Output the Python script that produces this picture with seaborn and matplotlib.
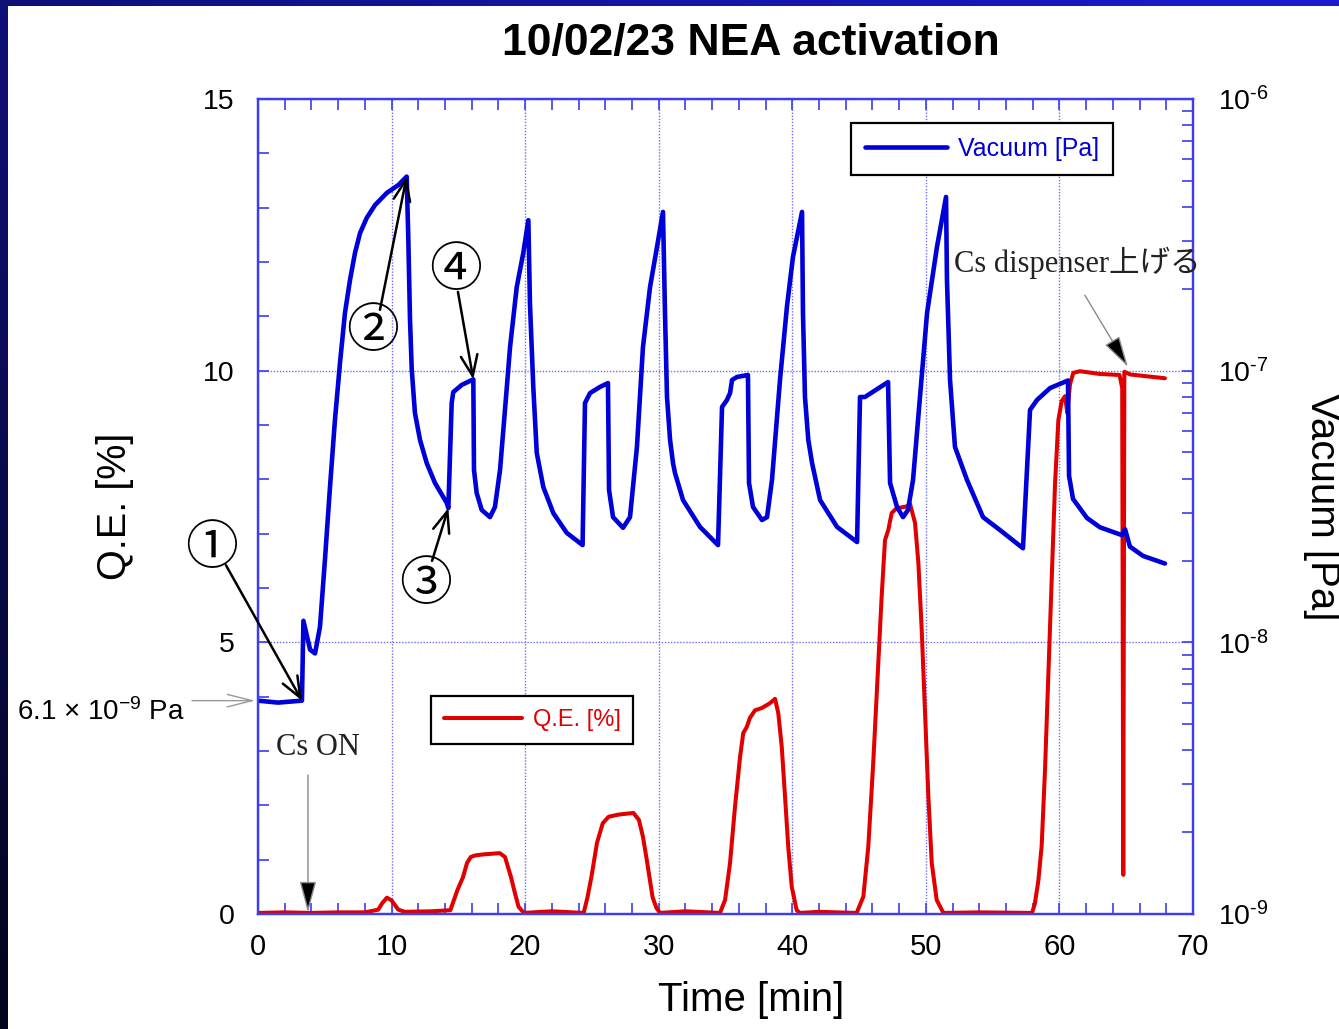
import numpy as np
import pandas as pd
import matplotlib
matplotlib.use("Agg")
import matplotlib.pyplot as plt
from matplotlib.ticker import MultipleLocator, LogLocator, NullFormatter
import seaborn as sns

# ---- Q.E. trace: time [min] and quantum efficiency [%] ----
qe_time = [0.0, 2.0, 4.0, 6.0, 8.0, 9.0, 9.3, 9.65, 10.0, 10.5, 11.0, 13.0,
           14.4, 14.93, 15.35, 15.65, 15.93, 16.3, 17.0, 18.1, 18.49, 18.94,
           19.23, 19.51, 19.91,
           22.0, 24.38, 24.67, 24.96, 25.38, 25.81, 26.25, 27.0, 28.11, 28.52,
           28.82, 29.11, 29.54, 29.83, 30.1,
           32.0, 34.59, 34.97, 35.34, 35.71, 36.09, 36.33, 36.59, 36.83, 37.21,
           37.71, 38.33, 38.71, 38.95, 39.21, 39.46, 39.7, 39.96, 40.33, 40.58,
           42.0, 44.82, 45.32, 45.69, 46.06, 46.44, 46.69, 46.94, 47.19, 47.44,
           47.82, 48.56, 48.81, 49.19, 49.44, 49.69, 49.94, 50.19, 50.44, 50.81,
           51.31, 54.0,
           57.95, 58.16, 58.42, 58.67, 58.92, 59.17, 59.42, 59.67, 59.92, 60.17,
           60.42, 60.59, 60.79, 61.04, 61.54, 63.0, 64.5, 64.7, 64.78, 64.86,
           65.3, 67.9]
qe_value = [0.02, 0.03, 0.02, 0.03, 0.03, 0.08, 0.2, 0.3, 0.25, 0.08, 0.04, 0.05,
            0.07, 0.44, 0.68, 0.94, 1.05, 1.08, 1.1, 1.12, 1.05, 0.68,
            0.39, 0.13, 0.02,
            0.05, 0.02, 0.31, 0.68, 1.31, 1.67, 1.79, 1.83, 1.86, 1.73,
            1.42, 0.99, 0.31, 0.11, 0.02,
            0.05, 0.02, 0.26, 0.94, 1.97, 2.89, 3.33, 3.44, 3.61, 3.75,
            3.79, 3.88, 3.96, 3.70, 3.08, 2.15, 1.23, 0.50, 0.07, 0.02,
            0.04, 0.02, 0.32, 1.24, 2.78, 4.62, 5.84, 6.88, 7.07, 7.38,
            7.47, 7.50, 7.55, 7.20, 6.46, 5.23, 3.70, 2.15, 0.94, 0.26,
            0.02, 0.03,
            0.02, 0.19, 0.61, 1.25, 2.65, 4.40, 6.15, 7.91, 9.09, 9.44,
            9.53, 9.22, 9.75, 9.96, 9.99, 9.94, 9.92, 9.68, 0.72, 9.98,
            9.93, 9.86]

# ---- Chamber pressure trace: time [min] and vacuum [Pa] ----
vac_time = [0.0, 1.5, 3.29, 3.4, 3.9, 4.27, 4.64, 5.02, 5.39, 5.76, 6.14, 6.51,
            6.89, 7.26, 7.64, 8.14, 8.76, 9.64, 10.5, 11.13,
            11.25, 11.38, 11.51, 11.75, 12.13, 12.63, 13.25, 14.13, 14.25,
            14.5, 14.62, 15.25, 16.12,
            16.17, 16.37, 16.75, 17.37, 17.74, 18.12, 18.49, 18.87, 19.37,
            19.86, 20.24,
            20.36, 20.61, 20.87, 21.36, 22.11, 23.11, 24.3,
            24.48, 24.86, 25.6, 26.2,
            26.28, 26.58, 27.33, 27.85, 28.37, 28.82, 29.35, 29.87, 30.32,
            30.47, 30.62, 30.85, 31.07, 31.22, 31.82, 33.09, 34.44,
            34.74, 35.11, 35.34, 35.49, 35.86, 36.68,
            36.76, 37.06, 37.73, 38.11, 38.48, 39.08, 39.6, 40.05, 40.73,
            40.8, 40.95, 41.2, 41.48, 42.08, 43.35, 44.85,
            45.07, 45.44, 47.17,
            47.32, 47.84, 48.29, 48.66, 49.04, 49.56, 50.09, 50.83, 51.51,
            51.58, 51.81, 52.18, 53.08, 54.28, 55.55, 57.27,
            57.8, 58.32, 59.3, 60.64,
            60.72, 61.02, 62.06, 63.04, 64.69, 64.91, 65.28, 66.26, 67.9]
vac_pressure = [6.1e-9, 6.0e-9, 6.1e-9, 1.2e-8, 9.4e-9, 9.1e-9, 1.14e-8, 2.04e-8,
                3.73e-8, 6.58e-8, 1.07e-7, 1.63e-7, 2.16e-7, 2.71e-7, 3.21e-7,
                3.65e-7, 4.07e-7, 4.51e-7, 4.82e-7, 5.18e-7,
                3.11e-7, 1.54e-7, 1.01e-7, 6.98e-8, 5.56e-8, 4.57e-8, 3.86e-8,
                3.26e-8, 3.12e-8,
                7.60e-8, 8.34e-8, 8.86e-8, 9.29e-8,
                4.31e-8, 3.55e-8, 3.07e-8, 2.89e-8, 3.15e-8, 4.31e-8, 7.17e-8,
                1.22e-7, 2.03e-7, 2.71e-7, 3.58e-7,
                1.77e-7, 8.71e-8, 4.98e-8, 3.73e-8, 2.99e-8, 2.53e-8, 2.28e-8,
                7.60e-8, 8.27e-8, 8.71e-8, 9.0e-8,
                3.64e-8, 2.89e-8, 2.64e-8, 2.89e-8, 5.24e-8, 1.22e-7, 2.03e-7,
                2.85e-7, 3.84e-7,
                1.63e-7, 8.0e-8, 5.56e-8, 4.57e-8, 4.2e-8, 3.34e-8, 2.66e-8,
                2.28e-8,
                7.35e-8, 7.80e-8, 8.27e-8, 9.24e-8, 9.48e-8, 9.64e-8,
                3.86e-8, 3.15e-8, 2.82e-8, 2.89e-8, 3.96e-8, 9.24e-8, 1.72e-7,
                2.62e-7, 3.84e-7,
                1.63e-7, 8.0e-8, 5.56e-8, 4.57e-8, 3.34e-8, 2.66e-8, 2.34e-8,
                8.0e-8, 8.0e-8, 9.08e-8,
                3.86e-8, 3.15e-8, 2.89e-8, 3.07e-8, 3.96e-8, 8.0e-8, 1.63e-7,
                2.85e-7, 4.36e-7,
                2.16e-7, 9.24e-8, 5.24e-8, 3.96e-8, 2.89e-8, 2.59e-8, 2.22e-8,
                7.17e-8, 7.80e-8, 8.63e-8, 9.2e-8,
                4.10e-8, 3.37e-8, 2.87e-8, 2.65e-8, 2.48e-8, 2.61e-8, 2.25e-8,
                2.08e-8, 1.95e-8]

# ---- axis ticks ----
time_ticks = [0, 10, 20, 30, 40, 50, 60, 70]
qe_ticks = [0, 5, 10, 15]
vac_ticks = [1e-9, 1e-8, 1e-7, 1e-6]
vac_tick_labels = [r"10$^{\text{-9}}$", r"10$^{\text{-8}}$",
                   r"10$^{\text{-7}}$", r"10$^{\text{-6}}$"]

# indices of the pressure samples the numbered arrows point at
step_index = {"①": 2, "②": 19, "③": 28, "④": 32}

RED = "#e00000"
BLUE = "#0000d8"
FRAME = "#3c3cf0"
GRID = "#6e6ef5"

sns.set_theme(style="white")
plt.rcParams["font.family"] = ["Liberation Sans", "DejaVu Sans"]
plt.rcParams["mathtext.fontset"] = "custom"
plt.rcParams["mathtext.rm"] = "Liberation Sans"
plt.rcParams["mathtext.it"] = "Liberation Sans:italic"
plt.rcParams["mathtext.bf"] = "Liberation Sans:bold"
plt.rcParams["text.color"] = "black"
plt.rcParams["axes.labelcolor"] = "black"
plt.rcParams["xtick.labelcolor"] = "black"
plt.rcParams["ytick.labelcolor"] = "black"

W, H = 1339, 1029
fig = plt.figure(figsize=(W / 100, H / 100), dpi=100)
fig.patch.set_facecolor("white")

# slide frame: gradient bars along the top and left edges
top_bar = fig.add_axes([0, 1 - 6 / H, 1, 6 / H])
c0, c1 = np.array([15, 16, 120]) / 255, np.array([27, 27, 210]) / 255
g = np.linspace(0, 1, 256)[None, :, None]
top_bar.imshow(c0 + (c1 - c0) * g, aspect="auto")
top_bar.axis("off")
left_bar = fig.add_axes([0, 0, 8 / W, 1])
c2 = np.array([4, 4, 28]) / 255
g = np.linspace(0, 1, 256)[:, None, None]
left_bar.imshow(c0 + (c2 - c0) * g, aspect="auto")
left_bar.axis("off")

ax = fig.add_axes([258 / W, 1 - 914 / H, (1193 - 258) / W, (914 - 99) / H])
ax2 = ax.twinx()

qe_df = pd.DataFrame({"time": qe_time, "qe": qe_value})
vac_df = pd.DataFrame({"time": vac_time, "vac": vac_pressure})

sns.lineplot(data=qe_df, x="time", y="qe", ax=ax, color=RED, lw=2.9,
             estimator=None, sort=False, label="Q.E. [%]",
             solid_joinstyle="round")
sns.lineplot(data=vac_df, x="time", y="vac", ax=ax2, color=BLUE, lw=3.3,
             estimator=None, sort=False, label="Vacuum [Pa]",
             solid_joinstyle="round")

# ---- left (Q.E.) and shared time axis ----
ax.set_xlim(0, 70)
ax.set_ylim(0, 15)
ax.set_xticks(time_ticks)
ax.set_yticks(qe_ticks)
ax.xaxis.set_minor_locator(MultipleLocator(2))
ax.yaxis.set_minor_locator(MultipleLocator(1))
ax.tick_params(which="both", direction="in", color=FRAME, width=1.2, length=8,
               labelcolor="black")
ax.tick_params(axis="x", which="both", top=True, bottom=True, labelsize=21, pad=14)
ax.tick_params(axis="y", which="both", left=True, right=False, labelsize=20.5, pad=17)
ax.grid(True, which="major", color=GRID, linestyle=(0, (1, 1.2)), lw=1)

ax.set_xlabel("Time [min]", fontsize=29)
ax.xaxis.set_label_coords((751 - 258) / 935, -(1000 - 914) / 815)
ax.xaxis.label.set_va("center")
ax.set_ylabel("Q.E. [%]", fontsize=28.5)
ax.yaxis.set_label_coords((115 - 258) / 935, (914 - 506) / 815)
ax.yaxis.label.set_va("center")

# ---- right (vacuum) axis ----
ax2.set_yscale("log")
ax2.set_ylim(1e-9, 1e-6)
ax2.set_yticks(vac_ticks, labels=vac_tick_labels)
ax2.yaxis.set_minor_locator(LogLocator(base=10, subs=np.arange(2, 10)))
ax2.yaxis.set_minor_formatter(NullFormatter())
ax2.tick_params(axis="y", which="both", direction="in", right=True, left=False,
                color=FRAME, width=1.2, length=8, labelsize=20.5, pad=18,
                labelcolor="black")
ax2.grid(False)
ax2.set_ylabel("Vacuum [Pa]", fontsize=29, rotation=270)
ax2.yaxis.set_label_coords((1322 - 258) / 935, (914 - 507) / 815)
ax2.yaxis.label.set_va("center")

for a in (ax, ax2):
    for s in a.spines.values():
        s.set_color(FRAME)
        s.set_linewidth(1.6)

# ---- legends ----
leg_kw = dict(loc="upper left", bbox_transform=fig.transFigure, borderaxespad=0,
              frameon=True, fancybox=False, edgecolor="black", framealpha=1,
              handlelength=3.3, handletextpad=0.45, borderpad=0.55,
              labelcolor="linecolor")
leg1 = ax.legend(bbox_to_anchor=(431 / W, 1 - 696 / H), fontsize=17, **leg_kw)
leg1.get_frame().set_linewidth(1.6)
leg2 = ax2.legend(bbox_to_anchor=(851 / W, 1 - 123 / H), fontsize=18, **leg_kw)
leg2.get_frame().set_linewidth(1.6)

# ---- title ----
fig.text(751 / W, 1 - 43 / H, "10/02/23 NEA activation", ha="center", va="center",
         fontsize=32, fontweight="bold", color="black")

# ---- numbered steps ----
steps = {
    "①": ((-3.44, 6.72), (-2.40, 6.42)),
    "②": ((8.61, 10.73), (9.13, 11.12)),
    "③": ((12.58, 6.06), (13.03, 6.50)),
    "④": ((14.82, 11.84), (14.97, 11.45)),
}
for mark, (txt_xy, start_xy) in steps.items():
    i = step_index[mark]
    ax2.text(*txt_xy, mark, transform=ax.transData, fontsize=38,
             family=["Noto Sans CJK JP", "DejaVu Sans"], ha="center", va="center",
             clip_on=False)
    ax2.annotate("", xy=(vac_time[i], vac_pressure[i]), xycoords="data",
                 xytext=start_xy, textcoords=ax.transData,
                 arrowprops=dict(arrowstyle="->,head_length=0.75,head_width=0.3",
                                 color="black", lw=1.8, mutation_scale=20,
                                 shrinkA=0, shrinkB=0),
                 annotation_clip=False)

# base pressure marker
ax2.text(-5.47, 3.72, "6.1 × 10$^{\\mathregular{-9}}$ Pa", transform=ax.transData,
         fontsize=20, ha="right", va="center", clip_on=False)
ax2.annotate("", xy=(-0.22, vac_pressure[0]), xycoords="data",
             xytext=(-4.94, vac_pressure[0]), textcoords="data",
             arrowprops=dict(arrowstyle="->,head_length=1.2,head_width=0.3",
                             color="#9a9a9a", lw=1.0, mutation_scale=15,
                             shrinkA=0, shrinkB=0),
             annotation_clip=False)

# Cs source events
serif = ["Liberation Serif", "Noto Sans CJK JP", "DejaVu Sans"]
ax2.text(4.49, 3.06, "Cs ON", transform=ax.transData, fontsize=22,
         family=serif, color="#222222", ha="center", va="center")
ax2.annotate("", xy=(3.74, 0.03), xycoords=ax.transData,
             xytext=(3.74, 2.56), textcoords=ax.transData,
             arrowprops=dict(arrowstyle="-|>,head_length=1.3,head_width=0.35",
                             fc="black", ec="#8a8a8a", lw=1.0, mutation_scale=15,
                             shrinkA=0, shrinkB=0))
ax2.text(52.1, 11.98, "Cs dispenser上げる", transform=ax.transData, fontsize=22,
         family=serif, color="#222222", ha="left", va="center")
ax2.annotate("", xy=(65.13, 10.07), xycoords=ax.transData,
             xytext=(61.9, 11.39), textcoords=ax.transData,
             arrowprops=dict(arrowstyle="-|>,head_length=1.3,head_width=0.35",
                             fc="black", ec="#8a8a8a", lw=1.0, mutation_scale=15,
                             shrinkA=0, shrinkB=0))

fig.savefig("out.png", dpi=100, facecolor="white")
